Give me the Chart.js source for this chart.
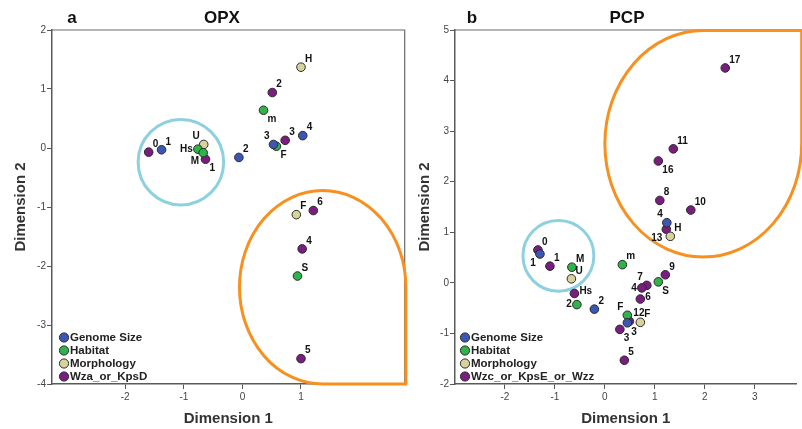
<!DOCTYPE html>
<html>
<head>
<meta charset="utf-8">
<script src="https://cdn.jsdelivr.net/npm/chart.js@4.4.0/dist/chart.umd.min.js"></script>
<style>
  body { margin: 0; background: #fff; width: 802px; height: 429px; overflow: hidden; position: relative; }
  .panel { position: absolute; top: 0; height: 429px; }
  #left { left: 0; width: 410px; }
  #right { left: 410px; width: 392px; }
</style>
</head>
<body>
<div class="panel" id="left"><canvas id="opx" width="410" height="429"></canvas></div>
<div class="panel" id="right"><canvas id="pcp" width="392" height="429"></canvas></div>
<script>
const seriesNames = ["Genome Size", "Habitat", "Morphology"];
const opxGeneName = "Wza_or_KpsD";
const pcpGeneName = "Wzc_or_KpsE_or_Wzz";
const colors = ["#3b57b5", "#2fb34b", "#d8d39c", "#7b1d80"];

// OPX points [dimension 1, dimension 2]
const opxGenome = [[-1.38, -0.03], [-0.06, -0.16], [0.53, 0.06], [1.03, 0.21]];
const opxGenomeLbl = ["1", "2", "3", "4"];
const opxHabitat = [[-0.76, -0.02], [-0.67, -0.08], [0.58, 0.03], [0.36, 0.64], [0.94, -2.17]];
const opxHabitatLbl = ["Hs", "M", "F", "m", "S"];
const opxMorph = [[-0.66, 0.06], [1.0, 1.37], [0.92, -1.13]];
const opxMorphLbl = ["U", "H", "F"];
const opxGene = [[-1.6, -0.07], [-0.63, -0.19], [0.73, 0.13], [0.51, 0.94], [1.21, -1.06], [1.02, -1.71], [1.0, -3.57]];
const opxGeneLbl = ["0", "1", "3", "2", "6", "4", "5"];
const opxXTicks = [-2, -1, 0, 1];
const opxYTicks = [-4, -3, -2, -1, 0, 1, 2];

// PCP points
const pcpGenome = [[-1.3, 0.57], [-0.21, -0.52], [0.45, -0.79], [1.24, 1.19]];
const pcpGenomeLbl = ["1", "2", "3", "4"];
const pcpHabitat = [[-0.66, 0.31], [-0.56, -0.43], [0.35, 0.36], [1.07, 0.02], [0.45, -0.64]];
const pcpHabitatLbl = ["M", "2", "m", "S", "F"];
const pcpMorph = [[-0.67, 0.08], [0.71, -0.78], [1.31, 0.92]];
const pcpMorphLbl = ["U", "F", "H"];
const pcpGene = [[-1.34, 0.65], [-1.1, 0.33], [-0.61, -0.21], [0.84, -0.05], [0.74, -0.1], [0.71, -0.32],
  [1.21, 0.16], [0.49, -0.76], [0.3, -0.92], [0.39, -1.53], [2.41, 4.25], [1.37, 2.65], [1.07, 2.41],
  [1.1, 1.63], [1.72, 1.44], [1.23, 1.06]];
const pcpGeneLbl = ["0", "1", "Hs", "7", "4", "6", "9", "12", "3", "5", "17", "11", "16", "8", "10", "13"];
const pcpXTicks = [-2, -1, 0, 1, 2, 3];
const pcpYTicks = [-2, -1, 0, 1, 2, 3, 4, 5];

// where each point label sits around its marker
const opxGenomePos = ["ne", "ne", "nw", "ne"];
const opxHabitatPos = ["w", "sw", "se", "se", "ne"];
const opxMorphPos = ["nw", "ne", "ne"];
const opxGenePos = ["ne", "se", "ne", "ne", "ne", "ne", "ne"];
const pcpGenomePos = ["sw", "ne", "se", "nw"];
const pcpHabitatPos = ["ne", "w", "ne", "se", "nw"];
const pcpMorphPos = ["ne", "ne", "ne"];
const pcpGenePos = ["ne", "ne", "e", "nw", "w", "e", "ne", "ne", "se", "ne", "ne", "ne", "se", "ne", "ne", "sw"];

const FONT = "'Liberation Sans', Arial, sans-serif";

function series(label, color, pts, lbls, pos) {
  return {
    label: label,
    data: pts.map((p, i) => ({ x: p[0], y: p[1], lbl: lbls[i], pos: pos[i] })),
    backgroundColor: color,
    borderColor: "#2a2a2a",
    borderWidth: 1,
    pointRadius: 4.3,
  };
}

const labelOffsets = {
  ne: [4, -8, "left"], nw: [-4, -8, "right"], se: [4, 9, "left"], sw: [-4, 9, "right"],
  e: [5, -2, "left"], w: [-5, 0, "right"]
};

function ellipsePx(chart, s) {
  const xs = chart.scales.x, ys = chart.scales.y;
  const cx = xs.getPixelForValue(s.cx), cy = ys.getPixelForValue(s.cy);
  return {
    cx, cy,
    rx: Math.abs(xs.getPixelForValue(s.cx + s.rx) - cx),
    ry: Math.abs(ys.getPixelForValue(s.cy + s.ry) - cy)
  };
}

const decor = {
  id: "decor",
  beforeDatasetsDraw(chart, args, opts) {
    const ctx = chart.ctx, a = chart.chartArea;
    ctx.save();
    // frame
    ctx.strokeStyle = "#6a6a6a";
    ctx.lineWidth = 1.2;
    ctx.beginPath();
    ctx.moveTo(a.left, a.top);
    ctx.lineTo(a.right, a.top);
    if (opts.frameRight) ctx.lineTo(a.right, a.bottom);
    ctx.stroke();
    // circled groups
    opts.shapes.forEach(s => {
      const e = ellipsePx(chart, s);
      ctx.strokeStyle = s.color;
      ctx.lineWidth = 3;
      ctx.beginPath();
      if (s.kind === "circle") {
        ctx.ellipse(e.cx, e.cy, e.rx, e.ry, 0, 0, Math.PI * 2);
      } else if (s.kind === "dropBR") {
        ctx.ellipse(e.cx, e.cy, e.rx, e.ry, 0, 0, Math.PI / 2, true);
        ctx.lineTo(e.cx + e.rx, e.cy + e.ry);
        ctx.closePath();
      } else {
        ctx.ellipse(e.cx, e.cy, e.rx, e.ry, 0, -Math.PI / 2, 0, true);
        ctx.lineTo(e.cx + e.rx, e.cy - e.ry);
        ctx.closePath();
      }
      ctx.stroke();
    });
    ctx.restore();
  },
  afterDatasetsDraw(chart, args, opts) {
    const ctx = chart.ctx, a = chart.chartArea;
    ctx.save();
    // point labels
    ctx.fillStyle = "#111";
    ctx.font = "bold 10px " + FONT;
    ctx.textBaseline = "middle";
    chart.data.datasets.forEach((ds, di) => {
      const meta = chart.getDatasetMeta(di);
      ds.data.forEach((d, i) => {
        const el = meta.data[i];
        const o = labelOffsets[d.pos];
        ctx.textAlign = o[2];
        ctx.fillText(d.lbl, el.x + o[0], el.y + o[1]);
      });
    });
    // legend
    ctx.font = "bold 11.5px " + FONT;
    ctx.textAlign = "left";
    chart.data.datasets.forEach((ds, i) => {
      const mx = a.left + opts.legendDx, my = a.bottom - 46.5 + i * 13;
      ctx.beginPath();
      ctx.arc(mx, my, 4.6, 0, Math.PI * 2);
      ctx.fillStyle = ds.backgroundColor;
      ctx.fill();
      ctx.strokeStyle = "#2a2a2a";
      ctx.lineWidth = 1;
      ctx.stroke();
      ctx.fillStyle = "#222";
      ctx.fillText(ds.label, mx + 6, my);
    });
    // panel titles
    ctx.font = "bold 17px " + FONT;
    ctx.textAlign = "center";
    ctx.fillStyle = "#111";
    ctx.fillText(opts.letter, opts.letterX, 18);
    ctx.fillText(opts.title, opts.titleX, 18);
    ctx.restore();
  }
};

function makeChart(id, datasets, cfg) {
  const axisTitle = (text, pad) => ({
    display: true, text: text, color: "#333",
    font: { family: FONT, size: 15, weight: "bold" }, padding: pad
  });
  const tickFont = { family: FONT, size: 10 };
  return new Chart(document.getElementById(id), {
    type: "scatter",
    data: { datasets: datasets },
    options: {
      responsive: false,
      animation: false,
      layout: { padding: cfg.padding },
      plugins: {
        legend: { display: false },
        tooltip: { enabled: false },
        decor: cfg.decor
      },
      scales: {
        x: {
          type: "linear", min: cfg.xMin, max: cfg.xMax,
          afterBuildTicks: s => { s.ticks = cfg.xTicks.map(v => ({ value: v })); },
          afterFit: s => { s.height = 45; },
          grid: { drawOnChartArea: false, drawTicks: true, tickLength: 5, color: "#555" },
          border: { color: "#5a5a5a", width: 1.5 },
          ticks: { font: tickFont, color: "#444", padding: 2 },
          title: axisTitle("Dimension 1", { top: 0, bottom: 1 })
        },
        y: {
          type: "linear", min: cfg.yMin, max: cfg.yMax,
          afterBuildTicks: s => { s.ticks = cfg.yTicks.map(v => ({ value: v })); },
          afterFit: s => { s.width = cfg.yWidth; },
          grid: { drawOnChartArea: false, drawTicks: true, tickLength: 5, color: "#555" },
          border: { color: "#5a5a5a", width: 1.5 },
          ticks: { font: tickFont, color: "#444", padding: 1 },
          title: axisTitle("Dimension 2", { top: cfg.yTitlePad, bottom: 0 })
        }
      }
    },
    plugins: [decor]
  });
}

makeChart("opx", [
  series(seriesNames[0], colors[0], opxGenome, opxGenomeLbl, opxGenomePos),
  series(seriesNames[1], colors[1], opxHabitat, opxHabitatLbl, opxHabitatPos),
  series(seriesNames[2], colors[2], opxMorph, opxMorphLbl, opxMorphPos),
  series(opxGeneName, colors[3], opxGene, opxGeneLbl, opxGenePos)
], {
  padding: { top: 30, right: 2, left: 0, bottom: 0 },
  xMin: -3.25, xMax: 2.77, xTicks: opxXTicks,
  yMin: -4, yMax: 2, yTicks: opxYTicks,
  yWidth: 52, yTitlePad: 12,
  decor: {
    letter: "a", letterX: 72, title: "OPX", titleX: 222, frameRight: true, legendDx: 12,
    shapes: [
      { kind: "circle", cx: -1.05, cy: -0.24, rx: 0.73, ry: 0.725, color: "#8dd0e0" },
      { kind: "dropBR", cx: 1.37, cy: -2.36, rx: 1.42, ry: 1.64, color: "#f7901e" }
    ]
  }
});

makeChart("pcp", [
  series(seriesNames[0], colors[0], pcpGenome, pcpGenomeLbl, pcpGenomePos),
  series(seriesNames[1], colors[1], pcpHabitat, pcpHabitatLbl, pcpHabitatPos),
  series(seriesNames[2], colors[2], pcpMorph, pcpMorphLbl, pcpMorphPos),
  series(pcpGeneName, colors[3], pcpGene, pcpGeneLbl, pcpGenePos)
], {
  padding: { top: 30, right: 0, left: 0, bottom: 0 },
  xMin: -3.0, xMax: 3.84, xTicks: pcpXTicks,
  yMin: -2, yMax: 5, yTicks: pcpYTicks,
  yWidth: 45, yTitlePad: 6,
  decor: {
    letter: "b", letterX: 62, title: "PCP", titleX: 217, frameRight: false, legendDx: 10,
    shapes: [
      { kind: "circle", cx: -0.93, cy: 0.535, rx: 0.71, ry: 0.7, color: "#8dd0e0" },
      { kind: "dropTR", cx: 1.97, cy: 2.75, rx: 1.97, ry: 2.24, color: "#f7901e" }
    ]
  }
});
</script>
</body>
</html>
